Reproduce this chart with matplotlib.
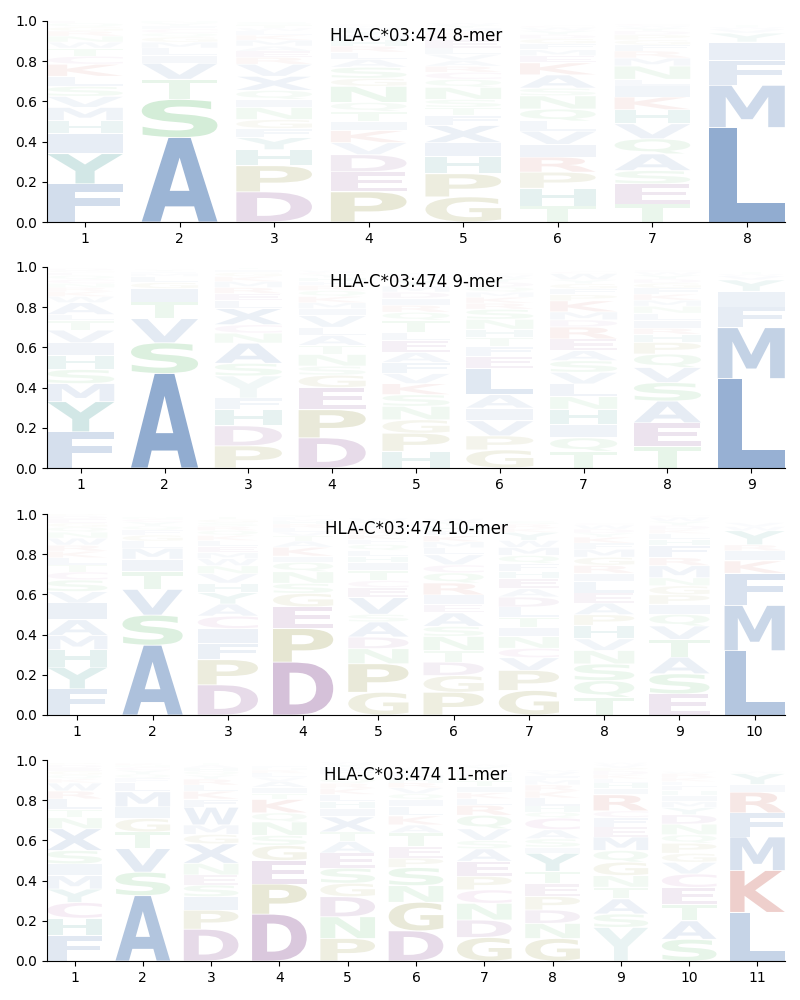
import numpy as np
import matplotlib
matplotlib.use("Agg")
import matplotlib.pyplot as plt
from matplotlib.textpath import TextPath
from matplotlib.patches import PathPatch
from matplotlib.font_manager import FontProperties
import matplotlib.transforms as mtransforms

allele = "HLA-C*03:474"

# letter stacks per position, bottom to top: (residue, height)
mer8 = [
    [("F", .19), ("Y", .15), ("I", .10), ("H", .065), ("M", .065), ("V", .055), ("S", .05), ("L", .05),
     ("K", .06), ("C", .04), ("T", .04), ("W", .03), ("N", .03), ("R", .025), ("G", .02), ("Q", .02), ("E", .01)],
    [("A", .42), ("S", .19), ("T", .10), ("V", .08), ("I", .04), ("L", .035), ("M", .03), ("G", .025),
     ("Q", .02), ("C", .02), ("F", .015), ("Y", .015), ("N", .01)],
    [("D", .15), ("P", .13), ("H", .08), ("Y", .06), ("F", .045), ("G", .045), ("N", .06), ("I", .04),
     ("Q", .045), ("X", .07), ("V", .06), ("R", .035), ("E", .03), ("A", .025), ("M", .03), ("K", .025),
     ("L", .02), ("W", .015), ("T", .015), ("S", .015)],
    [("P", .15), ("E", .10), ("D", .085), ("V", .06), ("K", .06), ("I", .045), ("T", .05), ("Q", .045),
     ("N", .08), ("G", .04), ("S", .055), ("A", .04), ("L", .035), ("R", .03), ("H", .03), ("M", .025),
     ("Y", .02), ("F", .015), ("W", .01), ("C", .01)],
    [("G", .125), ("P", .115), ("H", .085), ("I", .07), ("X", .085), ("F", .05), ("T", .04), ("S", .04),
     ("N", .06), ("Q", .04), ("C", .035), ("R", .03), ("A", .03), ("V", .03), ("L", .03), ("E", .04),
     ("D", .02), ("K", .02), ("M", .02), ("Y", .015), ("W", .01)],
    [("T", .08), ("H", .088), ("P", .08), ("R", .075), ("I", .063), ("V", .066), ("L", .05), ("Q", .06),
     ("N", .066), ("S", .038), ("A", .066), ("K", .06), ("E", .035), ("M", .03), ("F", .03), ("G", .025),
     ("D", .02), ("Y", .02), ("W", .015), ("C", .01)],
    [("T", .09), ("E", .10), ("S", .066), ("A", .083), ("Q", .075), ("V", .075), ("H", .07), ("K", .063),
     ("I", .055), ("L", .033), ("N", .066), ("M", .04), ("R", .035), ("F", .03), ("G", .025), ("P", .025),
     ("D", .02), ("Y", .015), ("W", .01), ("C", .01)],
    [("L", .47), ("M", .21), ("F", .125), ("I", .09), ("Y", .045), ("V", .02), ("W", .01), ("T", .01)],
]

mer9 = [
    [("F", .18), ("Y", .15), ("M", .09), ("S", .07), ("H", .07), ("I", .063), ("V", .063), ("T", .047),
     ("L", .03), ("A", .06), ("W", .03), ("K", .025), ("R", .02), ("N", .02), ("C", .02), ("Q", .02),
     ("E", .015), ("G", .01), ("D", .01)],
    [("A", .47), ("S", .153), ("V", .12), ("T", .083), ("I", .067), ("G", .03), ("L", .03), ("M", .015),
     ("F", .01), ("Y", .01)],
    [("P", .11), ("D", .10), ("H", .08), ("F", .058), ("Y", .11), ("S", .063), ("A", .10), ("N", .05),
     ("C", .042), ("X", .08), ("L", .04), ("E", .035), ("R", .03), ("M", .03), ("K", .025), ("G", .02),
     ("I", .015), ("T", .01)],
    [("D", .15), ("P", .14), ("E", .11), ("G", .062), ("S", .045), ("N", .058), ("T", .045), ("A", .05),
     ("L", .04), ("V", .058), ("I", .035), ("M", .03), ("K", .03), ("Q", .03), ("R", .025), ("F", .02),
     ("H", .02), ("Y", .015), ("C", .01), ("W", .01)],
    [("H", .083), ("P", .09), ("G", .067), ("N", .067), ("S", .058), ("K", .055), ("V", .05), ("F", .055),
     ("A", .05), ("E", .06), ("L", .04), ("T", .06), ("Q", .04), ("R", .035), ("I", .035), ("D", .03),
     ("M", .03), ("Y", .03), ("C", .02), ("W", .015)],
    [("G", .09), ("P", .07), ("V", .075), ("I", .063), ("A", .067), ("L", .13), ("E", .06), ("F", .05),
     ("T", .045), ("H", .04), ("N", .05), ("S", .05), ("R", .03), ("K", .03), ("M", .025), ("Q", .025),
     ("D", .025), ("Y", .02), ("W", .015), ("C", .01)],
    [("T", .083), ("Q", .067), ("I", .067), ("H", .075), ("N", .063), ("L", .063), ("V", .058), ("S", .058),
     ("A", .05), ("E", .058), ("R", .06), ("D", .035), ("M", .04), ("K", .055), ("P", .03), ("F", .03),
     ("G", .025), ("Y", .02), ("W", .03), ("C", .01)],
    [("T", .108), ("E", .117), ("A", .108), ("S", .092), ("V", .075), ("Q", .067), ("P", .058), ("H", .04),
     ("R", .03), ("I", .04), ("L", .035), ("N", .035), ("M", .03), ("K", .03), ("F", .03), ("G", .025),
     ("D", .02), ("Y", .02), ("W", .015), ("C", .01)],
    [("L", .445), ("M", .253), ("F", .103), ("I", .078), ("Y", .057), ("V", .02), ("W", .01), ("T", .01)],
]

mer10 = [
    [("F", .13), ("Y", .108), ("H", .088), ("M", .07), ("A", .078), ("I", .083), ("V", .057), ("S", .058),
     ("C", .04), ("T", .035), ("L", .035), ("K", .033), ("R", .03), ("W", .035), ("N", .03), ("Q", .025),
     ("G", .02), ("E", .02), ("D", .015), ("P", .01)],
    [("A", .347), ("S", .15), ("V", .128), ("T", .087), ("I", .063), ("M", .055), ("L", .035), ("G", .03),
     ("F", .025), ("Q", .02), ("Y", .02), ("C", .015), ("N", .01)],
    [("D", .15), ("P", .125), ("F", .08), ("I", .075), ("C", .062), ("A", .06), ("Y", .057), ("H", .047),
     ("V", .047), ("N", .04), ("W", .035), ("M", .03), ("E", .03), ("L", .03), ("K", .025), ("Q", .025),
     ("R", .02), ("S", .02), ("G", .015), ("T", .015)],
    [("D", .263), ("P", .167), ("E", .108), ("G", .067), ("S", .05), ("N", .058), ("Q", .047), ("I", .03),
     ("K", .045), ("A", .03), ("T", .025), ("V", .02), ("L", .02), ("R", .02), ("H", .015), ("M", .01),
     ("F", .01), ("Y", .01)],
    [("G", .113), ("P", .142), ("N", .075), ("D", .058), ("A", .075), ("S", .038), ("V", .083), ("E", .05),
     ("C", .035), ("T", .05), ("I", .04), ("H", .03), ("L", .03), ("Q", .03), ("F", .025), ("K", .025),
     ("R", .025), ("M", .02), ("Y", .02), ("W", .015)],
    [("P", .113), ("G", .083), ("D", .067), ("T", .058), ("N", .07), ("S", .05), ("A", .067), ("E", .042),
     ("I", .047), ("R", .06), ("Q", .05), ("C", .04), ("V", .05), ("L", .035), ("M", .03), ("K", .03),
     ("F", .025), ("H", .025), ("Y", .02), ("W", .015)],
    [("G", .122), ("P", .10), ("V", .063), ("C", .047), ("N", .058), ("I", .047), ("T", .05), ("L", .05),
     ("D", .05), ("A", .042), ("E", .05), ("H", .035), ("F", .04), ("Q", .04), ("M", .04), ("W", .035),
     ("Y", .04), ("K", .02), ("R", .02), ("S", .015)],
    [("T", .088), ("Q", .083), ("S", .083), ("N", .067), ("V", .058), ("H", .067), ("P", .053), ("A", .058),
     ("E", .05), ("L", .058), ("I", .04), ("R", .04), ("G", .04), ("M", .04), ("F", .03), ("K", .03),
     ("Y", .02), ("D", .02), ("W", .02), ("C", .01)],
    [("E", .105), ("S", .10), ("A", .083), ("T", .088), ("V", .067), ("Q", .058), ("I", .05), ("P", .047),
     ("G", .045), ("N", .04), ("M", .06), ("R", .04), ("F", .06), ("H", .03), ("L", .03), ("K", .02),
     ("D", .02), ("Y", .02), ("W", .02), ("C", .01)],
    [("L", .32), ("M", .225), ("F", .16), ("K", .062), ("I", .05), ("R", .03), ("Y", .07), ("W", .02),
     ("V", .02)],
]

mer11 = [
    [("F", .125), ("H", .088), ("C", .078), ("Y", .067), ("M", .067), ("I", .058), ("S", .067), ("X", .108),
     ("N", .055), ("T", .04), ("L", .053), ("R", .04), ("W", .04), ("K", .02), ("Q", .02), ("G", .02),
     ("E", .015), ("D", .015), ("P", .01)],
    [("A", .325), ("S", .117), ("V", .117), ("T", .083), ("G", .067), ("I", .058), ("M", .075), ("L", .047),
     ("F", .02), ("Q", .02), ("Y", .02), ("C", .015), ("N", .01), ("K", .01)],
    [("D", .158), ("P", .095), ("I", .067), ("S", .058), ("E", .05), ("N", .058), ("X", .097), ("G", .047),
     ("M", .047), ("W", .088), ("F", .04), ("K", .04), ("L", .03), ("R", .03), ("Y", .02), ("Q", .02),
     ("H", .015), ("A", .015), ("T", .01)],
    [("D", .233), ("P", .15), ("E", .117), ("G", .075), ("S", .05), ("N", .067), ("Q", .045), ("K", .067),
     ("T", .03), ("I", .03), ("A", .03), ("V", .02), ("L", .02), ("R", .015), ("H", .01), ("F", .01)],
    [("P", .112), ("N", .108), ("D", .10), ("G", .067), ("S", .075), ("E", .075), ("A", .058), ("T", .047),
     ("X", .075), ("I", .042), ("H", .035), ("L", .035), ("K", .03), ("R", .025), ("Q", .025), ("V", .02),
     ("F", .02), ("M", .015), ("Y", .015), ("W", .01)],
    [("D", .15), ("G", .142), ("N", .083), ("S", .09), ("P", .047), ("E", .058), ("T", .067), ("A", .04),
     ("K", .045), ("L", .045), ("I", .035), ("Q", .03), ("V", .03), ("R", .025), ("H", .02), ("M", .02),
     ("F", .015), ("Y", .015), ("W", .01)],
    [("G", .117), ("D", .087), ("N", .083), ("C", .067), ("P", .067), ("E", .075), ("A", .062), ("S", .042),
     ("V", .058), ("Q", .067), ("R", .05), ("L", .033), ("K", .03), ("I", .03), ("T", .03), ("H", .02),
     ("M", .02), ("F", .015), ("Y", .015), ("W", .01)],
    [("G", .112), ("N", .075), ("D", .067), ("P", .067), ("E", .063), ("T", .062), ("Y", .09), ("I", .03),
     ("S", .042), ("A", .045), ("C", .058), ("Q", .03), ("H", .03), ("L", .04), ("K", .035), ("R", .03),
     ("M", .025), ("F", .02), ("V", .02), ("W", .01)],
    [("Y", .167), ("S", .067), ("A", .075), ("T", .058), ("N", .058), ("G", .067), ("Q", .058), ("M", .067),
     ("E", .05), ("F", .047), ("C", .033), ("R", .08), ("I", .03), ("H", .03), ("L", .02), ("K", .02),
     ("D", .02), ("P", .015), ("V", .015), ("W", .01)],
    [("S", .108), ("A", .092), ("T", .083), ("E", .083), ("C", .067), ("V", .058), ("G", .045), ("P", .05),
     ("Q", .042), ("N", .053), ("D", .047), ("Y", .035), ("M", .03), ("I", .03), ("H", .025), ("F", .025),
     ("L", .02), ("K", .02), ("R", .02), ("W", .01)],
    [("L", .242), ("K", .208), ("M", .167), ("F", .12), ("R", .103), ("I", .038), ("Y", .055), ("W", .01)],
]

panels = [("8-mer", mer8), ("9-mer", mer9), ("10-mer", mer10), ("11-mer", mer11)]

# residue colour groups
blue = (68/255, 114/255, 176/255)
teal = (20/255, 130/255, 125/255)
green = (76/255, 180/255, 92/255)
olive = (135/255, 135/255, 40/255)
purple = (128/255, 67/255, 140/255)
pink = (170/255, 80/255, 160/255)
red = (193/255, 70/255, 59/255)
colors = {}
for c in "AVLIMFWX":
    colors[c] = blue
for c in "HY":
    colors[c] = teal
for c in "STNQ":
    colors[c] = green
for c in "GP":
    colors[c] = olive
for c in "DE":
    colors[c] = purple
colors["C"] = pink
for c in "KR":
    colors[c] = red

# letters that look washed out in the original despite their size
faded = {("11-mer", 9, "Y"): 0.09, ("9-mer", 3, "Y"): 0.06}

fp = FontProperties(family="DejaVu Sans", weight="bold")


def draw_letter(ax, ch, x, y, w, h, color, alpha):
    tp = TextPath((0, 0), ch, size=1, prop=fp)
    bb = tp.get_extents()
    t = (mtransforms.Affine2D().translate(-bb.x0, -bb.y0)
         .scale(w / bb.width, h / bb.height).translate(x - w / 2, y))
    ax.add_patch(PathPatch(t.transform_path(tp), facecolor=color, edgecolor="none", alpha=alpha))


fig = plt.figure(figsize=(8, 10), dpi=100)
bottoms = [0.778, 0.532, 0.285, 0.039]

for (name, data), b in zip(panels, bottoms):
    ax = fig.add_axes([0.059, b, 0.922, 0.201])
    n = len(data)
    for i, stack in enumerate(data):
        y = 0.0
        for ch, h in stack:
            pad = min(0.004, h * 0.1)
            a = faded.get((name, i + 1, ch), min(1.0, 1.25 * h))
            draw_letter(ax, ch, i + 1, y + pad / 2, 0.8, h - pad, colors[ch], a)
            y += h
    ax.set_xlim(0.6, n + 0.4)
    ax.set_ylim(0, 1)
    ax.set_xticks(range(1, n + 1))
    ax.set_yticks([0, 0.2, 0.4, 0.6, 0.8, 1.0])
    ax.spines["top"].set_visible(False)
    ax.spines["right"].set_visible(False)
    ax.text(0.5, 0.925, f"{allele} {name}", transform=ax.transAxes,
            ha="center", va="center", fontsize=12)

fig.savefig("out.png", dpi=100)
